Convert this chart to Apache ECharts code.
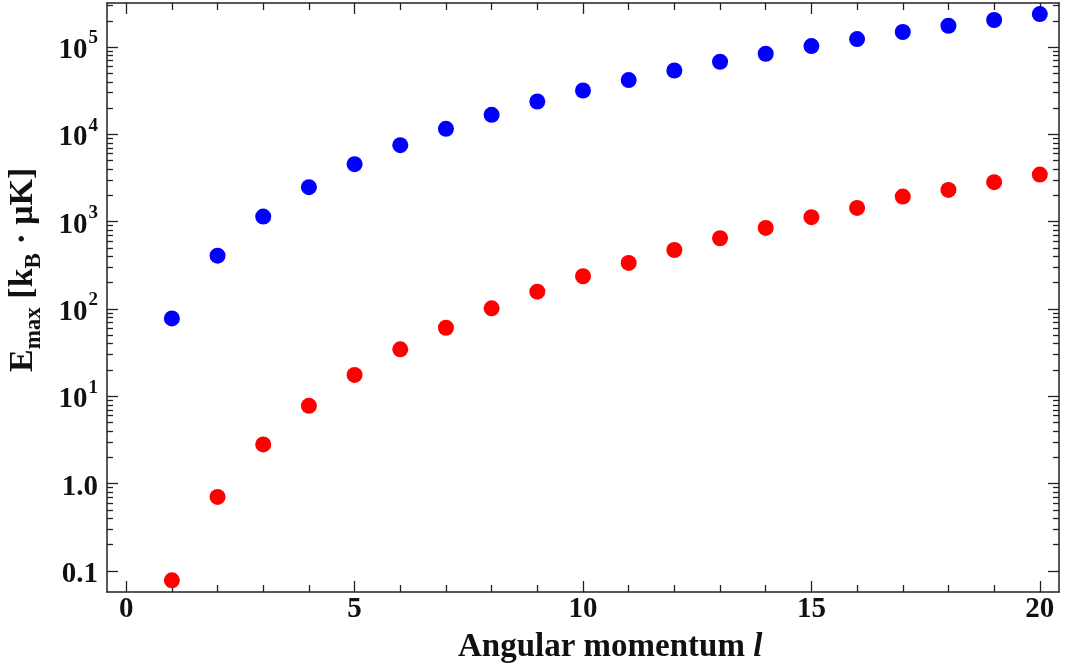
<!DOCTYPE html>
<html>
<head>
<meta charset="utf-8">
<script src="https://cdn.jsdelivr.net/npm/echarts@6/dist/echarts.min.js"></script>
<style>
html,body{margin:0;padding:0;background:#fff;}
#chart{width:1070px;height:670px;}
</style>
</head>
<body>
<div id="chart"></div>
<script>
// ---- data ----
var angularMomentum = [1,2,3,4,5,6,7,8,9,10,11,12,13,14,15,16,17,18,19,20];
var blueEmax = [78, 408, 1143, 2485, 4560, 7520, 11570, 16750, 23790, 31800,
                41830, 53900, 67850, 83800, 102700, 123500, 148600, 175500, 204000, 238800];
var redEmax  = [0.078, 0.705, 2.81, 7.79, 17.6, 34.5, 61, 101.8, 157.8, 237,
                337, 474, 646, 848, 1125, 1438, 1938, 2312, 2835, 3464];
var xMajorTicks = [0,5,10,15,20];
var xMinorTicks = [1,2,3,4,6,7,8,9,11,12,13,14,16,17,18,19];
var yMajorTicks = [0.1,1,10,100,1000,10000,100000];
var yTickLabels = ['0.1','1.0','10^1','10^2','10^3','10^4','10^5'];
var yMinorTicks = [0.2,0.3,0.4,0.5,0.6,0.7,0.8,0.9,
                   2,3,4,5,6,7,8,9,
                   20,30,40,50,60,70,80,90,
                   200,300,400,500,600,700,800,900,
                   2000,3000,4000,5000,6000,7000,8000,9000,
                   20000,30000,40000,50000,60000,70000,80000,90000,
                   200000,300000];

var FONT = '"Liberation Serif","Times New Roman",serif';
var AX = '#222';
var xMin = -0.42, xMax = 20.42;
var yMin = 0.0574, yMax = 319500;

function yLabel(v){
  var e = Math.round(Math.log10(v));
  var idx = yMajorTicks.findIndex(function(t){return Math.round(Math.log10(t))===e;});
  var s = yTickLabels[idx] || '';
  if (s.indexOf('^')>=0){
    var p = s.split('^');
    return '{b|'+p[0]+'}{s|'+p[1]+'}';
  }
  return '{b|'+s+'}';
}

function xAx(pos, ticks, len, labels, showLine){
  return {
    type:'value', min:xMin, max:xMax, position:pos, gridIndex:0,
    axisLine:{show:showLine, onZero:false, lineStyle:{color:AX,width:1.5}},
    axisTick:{show:true, inside:true, length:len, customValues:ticks, lineStyle:{color:AX,width:1.3}},
    axisLabel:{show:labels, customValues:xMajorTicks, margin:3, color:'#111',
      fontFamily:FONT, fontWeight:'bold', fontSize:29},
    splitLine:{show:false}
  };
}
function yAx(pos, ticks, len, labels, showLine){
  return {
    type:'log', logBase:10, min:yMin, max:yMax, position:pos, gridIndex:0,
    axisLine:{show:showLine, onZero:false, lineStyle:{color:AX,width:1.5}},
    axisTick:{show:true, inside:true, length:len, customValues:ticks, lineStyle:{color:AX,width:1.3}},
    axisLabel:{show:labels, customValues:yMajorTicks, margin:9, color:'#111',
      formatter:yLabel,
      rich:{
        b:{fontFamily:FONT, fontWeight:'bold', fontSize:29, lineHeight:36, verticalAlign:'bottom', color:'#111'},
        s:{fontFamily:FONT, fontWeight:'bold', fontSize:19, lineHeight:36, verticalAlign:'top', color:'#111', padding:[0,0,0,1]}
      }},
    splitLine:{show:false}
  };
}

var chart = echarts.init(document.getElementById('chart'), null, {renderer:'canvas'});
chart.setOption({
  animation:false,
  backgroundColor:'#fff',
  grid:{left:107, right:11, top:3, bottom:78, containLabel:false},
  xAxis:[
    xAx('bottom', xMajorTicks, 11, true, true),
    xAx('bottom', xMinorTicks, 7, false, false),
    xAx('top', xMajorTicks, 11, false, true),
    xAx('top', xMinorTicks, 7, false, false)
  ],
  yAxis:[
    yAx('left', yMajorTicks, 11, true, true),
    yAx('left', yMinorTicks, 6, false, false),
    yAx('right', yMajorTicks, 11, false, true),
    yAx('right', yMinorTicks, 6, false, false)
  ],
  graphic:[
    {type:'text', left:458, top:631,
     style:{text:'{n|Angular momentum }{i|l}',
       rich:{n:{fontFamily:FONT,fontWeight:'bold',fontSize:33,fill:'#111'},
             i:{fontFamily:FONT,fontWeight:'bold',fontStyle:'italic',fontSize:33,fill:'#111'}}}},
    {type:'text', x:6, y:372, rotation:Math.PI/2,
     style:{text:'{e|E}{u|max}{e| [k}{u|B}{e| · μK]}',
       rich:{e:{fontFamily:FONT,fontWeight:'bold',fontSize:34,lineHeight:40,verticalAlign:'top',fill:'#111'},
             u:{fontFamily:FONT,fontWeight:'bold',fontSize:23,lineHeight:40,verticalAlign:'bottom',fill:'#111'}}}}
  ],
  series:[
    {type:'scatter', xAxisIndex:0, yAxisIndex:0, symbol:'circle', symbolSize:16,
     itemStyle:{color:'#0000ff', opacity:1},
     data: angularMomentum.map(function(l,i){return [l, blueEmax[i]];})},
    {type:'scatter', xAxisIndex:0, yAxisIndex:0, symbol:'circle', symbolSize:16,
     itemStyle:{color:'#ff0000', opacity:1},
     data: angularMomentum.map(function(l,i){return [l, redEmax[i]];})}
  ]
});
</script>
</body>
</html>
